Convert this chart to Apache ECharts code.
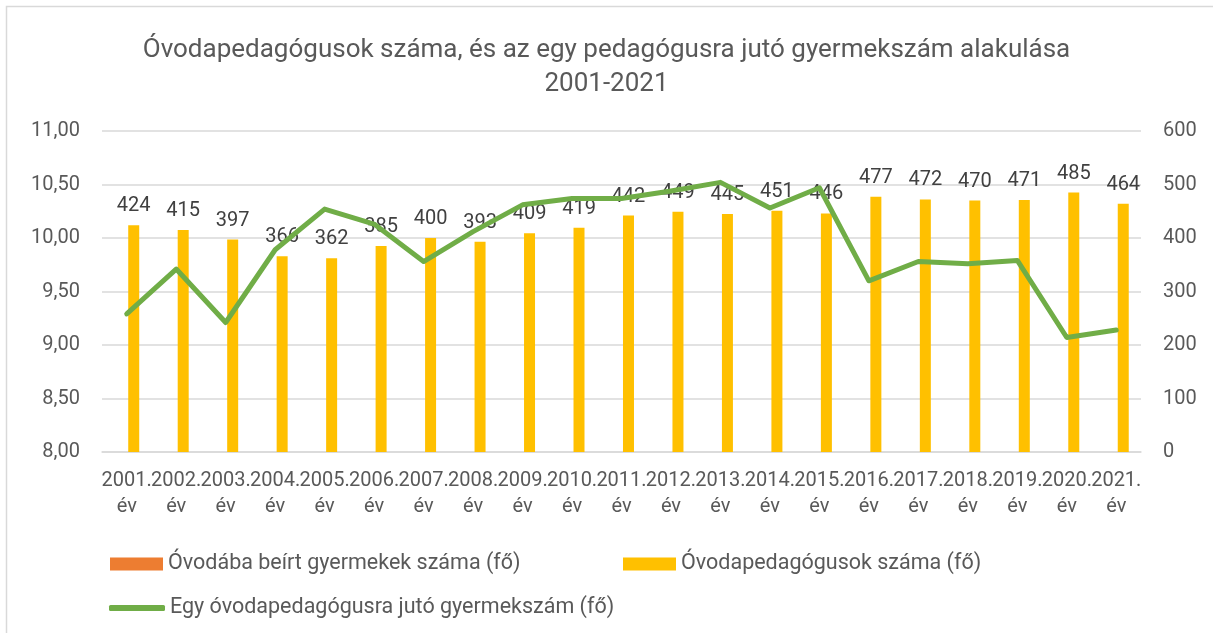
<!DOCTYPE html>
<html lang="hu">
<head>
    <meta charset="utf-8">
    <title>Óvodapedagógusok száma</title>
    <script src="https://cdn.jsdelivr.net/npm/echarts@6/dist/echarts.min.js"></script>
    <style>
        html, body { margin: 0; padding: 0; background: #fff; }
        #main { width: 1213px; height: 633px; }
    </style>
</head>
<body>
<div id="main"></div>
<script>
    // adatok
    var evek = ['2001.', '2002.', '2003.', '2004.', '2005.', '2006.', '2007.', '2008.', '2009.', '2010.', '2011.',
        '2012.', '2013.', '2014.', '2015.', '2016.', '2017.', '2018.', '2019.', '2020.', '2021.'];
    var gyermekek = [null, null, null, null, null, null, null, null, null, null, null,
        null, null, null, null, null, null, null, null, null, null];
    var pedagogusok = [424, 415, 397, 366, 362, 385, 400, 393, 409, 419, 442, 449, 445, 451, 446, 477, 472, 470, 471, 485, 464];
    var jutoGyermek = [9.29, 9.71, 9.21, 9.89, 10.27, 10.13, 9.78, 10.06, 10.31, 10.37, 10.37,
        10.44, 10.52, 10.28, 10.47, 9.60, 9.78, 9.76, 9.79, 9.07, 9.14];

    var nevek = ['Óvodába beírt gyermekek száma (fő)', 'Óvodapedagógusok száma (fő)', 'Egy óvodapedagógusra jutó gyermekszám (fő)'];

    var betu = 'Roboto, "Open Sans", sans-serif';
    var szurke = '#595959';

    var myChart = echarts.init(document.getElementById('main'));
    var option = {
        backgroundColor: '#fff',
        textStyle: { fontFamily: betu },
        animation: false,
        graphic: [{
            type: 'rect',
            shape: { x: 6.5, y: 6.5, width: 1400, height: 800 },
            style: { fill: 'none', stroke: '#D9D9D9', lineWidth: 1.5 },
            silent: true
        }],
        title: {
            text: 'Óvodapedagógusok száma, és az egy pedagógusra jutó gyermekszám alakulása\n2001-2021',
            left: 'center',
            top: 28,
            textStyle: { color: szurke, fontSize: 26, fontWeight: 'normal', lineHeight: 34, fontFamily: betu }
        },
        legend: [{
            data: [nevek[0]], left: 105, top: 548, icon: 'rect', itemWidth: 53, itemHeight: 13, itemGap: 0,
            textStyle: { color: szurke, fontSize: 21.5, fontFamily: betu }
        }, {
            data: [nevek[1]], left: 618, top: 548, icon: 'rect', itemWidth: 53, itemHeight: 13, itemGap: 0,
            textStyle: { color: szurke, fontSize: 21.5, fontFamily: betu }
        }, {
            data: [nevek[2]], left: 104, top: 592, icon: 'roundRect', itemWidth: 56, itemHeight: 6, itemGap: 0,
            textStyle: { color: szurke, fontSize: 21.5, fontFamily: betu }
        }],
        grid: { left: 102, right: 72, top: 131, bottom: 181 },
        xAxis: {
            type: 'category',
            data: evek,
            axisTick: { show: false },
            axisLine: { lineStyle: { color: '#D9D9D9', width: 1.5 } },
            axisLabel: {
                interval: 0, color: szurke, fontSize: 20, lineHeight: 26, margin: 16,
                formatter: function (v) { return v + '\név'; }
            }
        },
        yAxis: [{
            type: 'value', min: 8, max: 11, interval: 0.5,
            axisLine: { show: false }, axisTick: { show: false },
            splitLine: { lineStyle: { color: '#D9D9D9', width: 1.5 } },
            axisLabel: {
                color: szurke, fontSize: 20, margin: 22,
                formatter: function (v) { return v.toFixed(2).replace('.', ','); }
            }
        }, {
            type: 'value', min: 0, max: 600, interval: 100,
            axisLine: { show: false }, axisTick: { show: false },
            splitLine: { show: false },
            axisLabel: { color: szurke, fontSize: 20, margin: 22 }
        }],
        series: [{
            name: nevek[0], type: 'bar', yAxisIndex: 1, data: gyermekek,
            barWidth: 11, barGap: '27%',
            itemStyle: { color: '#ED7D31' }
        }, {
            name: nevek[1], type: 'bar', yAxisIndex: 1, data: pedagogusok,
            barWidth: 11, barGap: '27%',
            itemStyle: { color: '#FFC000' },
            label: { show: true, position: 'top', distance: 9, color: '#404040', fontSize: 20, fontFamily: betu }
        }, {
            name: nevek[2], type: 'line', yAxisIndex: 0, data: jutoGyermek,
            symbol: 'none', z: 3,
            lineStyle: { color: '#70AD47', width: 5, cap: 'round', join: 'round' },
            itemStyle: { color: '#70AD47' }
        }]
    };
    myChart.setOption(option);
</script>
</body>
</html>
